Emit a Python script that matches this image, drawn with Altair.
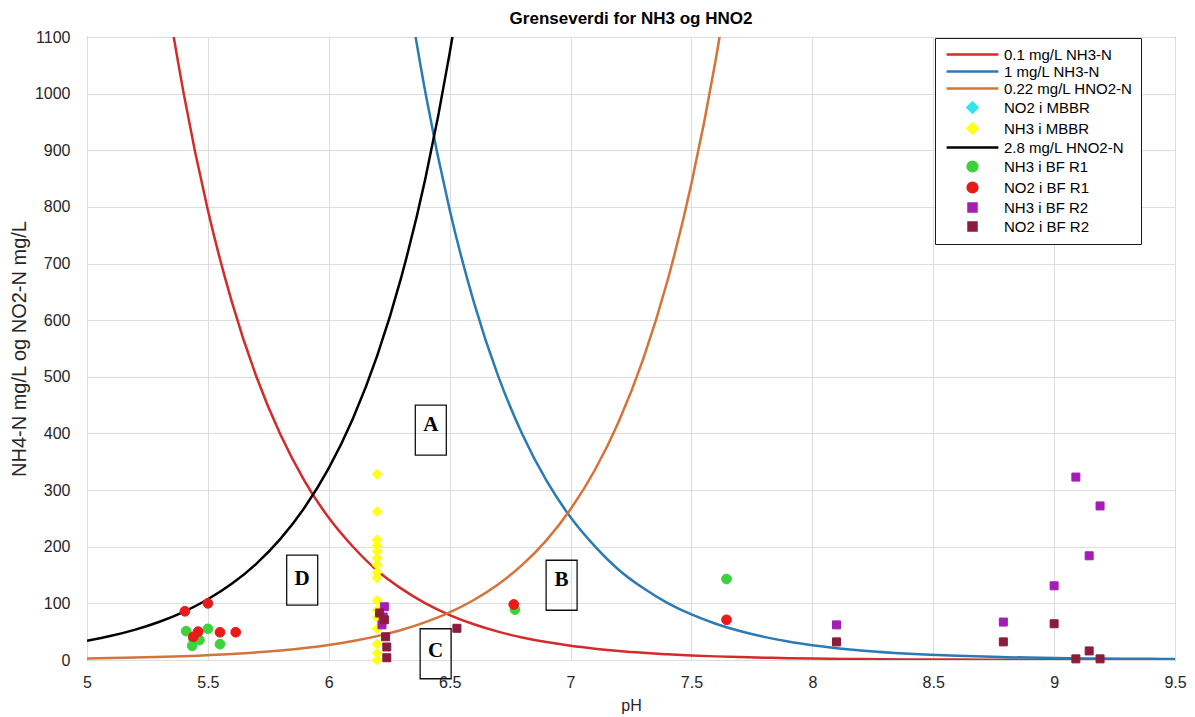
import altair as alt
import pandas as pd

FONT = "Liberation Sans"

# ---------------- series definitions ----------------
series = ["0.1 mg/L NH3-N", "1 mg/L NH3-N", "0.22 mg/L HNO2-N", "NO2 i MBBR", "NH3 i MBBR",
          "2.8 mg/L HNO2-N", "NH3 i BF R1", "NO2 i BF R1", "NH3 i BF R2", "NO2 i BF R2"]
colors = ["#d42a2a", "#2a7ab6", "#d4733a", "#33e6ee", "#ffff1a",
          "#000000", "#3cd23c", "#e81a1a", "#a51db5", "#8c1c3c"]
LINE = "M-3.7,0H3.7"
shapes = [LINE, LINE, LINE, "diamond", "diamond", LINE, "circle", "circle", "square", "square"]
sizes = [196, 196, 196, 100, 100, 196, 95, 95, 64, 64]

# ---------------- threshold curves ----------------
red_ph = [5.2, 5.3, 5.4, 5.5, 5.6, 5.7, 5.8, 5.9, 6.0, 6.1, 6.2, 6.3, 6.4, 6.5, 6.6, 6.7, 6.8, 6.9, 7.0, 7.1,
          7.2, 7.3, 7.4, 7.5, 7.6, 7.7, 7.8, 7.9, 8.0, 8.2, 8.4, 8.6, 8.8, 9.0, 9.25, 9.5]
red_val = [1585, 1259, 1000, 794, 631, 501, 398, 316, 251, 200, 158, 126, 100, 79.4, 63.1, 50.1, 39.8, 31.6, 25.1, 20.0,
           15.8, 12.6, 10.1, 8.0, 6.4, 5.1, 4.1, 3.3, 2.6, 1.7, 1.1, 0.7, 0.5, 0.3, 0.2, 0.1]

blue_ph = [6.2, 6.3, 6.4, 6.5, 6.6, 6.7, 6.8, 6.9, 7.0, 7.1, 7.2, 7.3, 7.4, 7.5, 7.6, 7.7, 7.8, 7.9, 8.0,
           8.2, 8.4, 8.6, 8.8, 9.0, 9.2, 9.4, 9.5]
blue_val = [1586, 1260, 1001, 795, 632, 502, 399, 317, 252, 201, 159, 127, 101, 80.4, 64.1, 51.1, 40.8, 32.6, 26.1,
            16.8, 11.0, 7.3, 5.0, 3.5, 2.6, 2.0, 1.8]

orange_ph = [5.0, 5.2, 5.4, 5.6, 5.8, 6.0, 6.1, 6.2, 6.3, 6.4, 6.5, 6.6, 6.7, 6.8, 6.9, 7.0, 7.1, 7.2, 7.3, 7.4,
             7.5, 7.6, 7.7, 7.8]
orange_val = [2.66, 4.22, 6.68, 10.6, 16.8, 26.6, 33.5, 42.2, 53.1, 66.8, 84.1, 105.9, 133.4, 167.9, 211.3, 266.1,
              335.0, 421.7, 530.9, 668.3, 841.4, 1059, 1334, 1679]

black_ph = [5.0, 5.1, 5.2, 5.3, 5.4, 5.5, 5.6, 5.7, 5.8, 5.9, 6.0, 6.1, 6.2, 6.3, 6.4, 6.5, 6.6, 6.7]
black_val = [33.9, 42.7, 53.7, 67.6, 85.1, 107.2, 134.9, 169.8, 213.8, 269.2, 338.8, 426.6, 537.0, 676.1,
             851.1, 1071.5, 1349, 1698]

# ---------------- measured points ----------------
mbbr_no2_ph = []
mbbr_no2_val = []
mbbr_nh3_ph = [6.2, 6.2, 6.2, 6.2, 6.2, 6.2, 6.2, 6.2, 6.2, 6.2, 6.2, 6.2, 6.2, 6.2, 6.2, 6.2]
mbbr_nh3_val = [328, 262, 212, 202, 192, 180, 168, 155, 145, 105, 88, 75, 55, 28, 12, 0]

r1_nh3_ph = [5.41, 5.435, 5.44, 5.465, 5.50, 5.55, 6.77, 7.645]
r1_nh3_val = [51, 25, 37, 35, 55, 28, 89, 143]
r1_no2_ph = [5.405, 5.44, 5.46, 5.50, 5.55, 5.615, 6.765, 7.645]
r1_no2_val = [86, 41, 50, 100, 49, 49, 98, 71]

r2_nh3_ph = [6.23, 6.225, 6.22, 8.10, 8.79, 9.0, 9.09, 9.145, 9.19]
r2_nh3_val = [94, 76, 62, 62, 67, 131, 323, 184, 272]
r2_no2_ph = [6.21, 6.23, 6.235, 6.24, 6.24, 6.53, 8.10, 8.79, 9.0, 9.09, 9.145, 9.19]
r2_no2_val = [83, 71, 41, 23, 4, 56, 32, 32, 64, 2, 16, 2]

# ---------------- annotations ----------------
ann_labels = ["A", "B", "C", "D"]
ann_ph = [6.422, 6.963, 6.442, 5.89]
ann_box_val = [406, 132, 11, 141]
ann_txt_val = [415, 141, 16, 143]

x_ticks = [5, 5.5, 6, 6.5, 7, 7.5, 8, 8.5, 9, 9.5]
y_ticks = [0, 100, 200, 300, 400, 500, 600, 700, 800, 900, 1000, 1100]

# ---------------- frames ----------------
def frame(ph, val, name):
    return pd.DataFrame({"ph": ph, "val": val, "series": [name] * len(ph)})

lines_df = pd.concat([
    frame(red_ph, red_val, series[0]),
    frame(blue_ph, blue_val, series[1]),
    frame(orange_ph, orange_val, series[2]),
    frame(black_ph, black_val, series[5]),
], ignore_index=True)

pts_df = pd.concat([
    frame(mbbr_no2_ph, mbbr_no2_val, series[3]),
    frame(mbbr_nh3_ph, mbbr_nh3_val, series[4]),
    frame(r1_nh3_ph, r1_nh3_val, series[6]),
    frame(r1_no2_ph, r1_no2_val, series[7]),
    frame(r2_nh3_ph, r2_nh3_val, series[8]),
    frame(r2_no2_ph, r2_no2_val, series[9]),
], ignore_index=True)

ann_df = pd.DataFrame({"label": ann_labels, "ph": ann_ph, "box": ann_box_val, "txt": ann_txt_val})

x_enc = alt.X("ph:Q", scale=alt.Scale(domain=[5, 9.5], nice=False, zero=False),
              axis=alt.Axis(values=x_ticks, format="~g", title="pH", labelFlush=False, labelOverlap=False))
y_enc = alt.Y("val:Q", scale=alt.Scale(domain=[0, 1100], nice=False, zero=False),
              axis=alt.Axis(values=y_ticks, format="d", title="NH4-N mg/L og NO2-N mg/L", labelFlush=False,
                            labelOverlap=False))

stroke_enc = alt.Stroke("series:N", scale=alt.Scale(domain=series, range=colors), legend=alt.Legend(title=None))

lines = alt.Chart(lines_df).mark_line(clip=True, strokeWidth=2.5, interpolate="monotone").encode(
    x=x_enc, y=y_enc, stroke=stroke_enc
)

points = alt.Chart(pts_df).mark_point(filled=True, opacity=1, strokeWidth=1).encode(
    x=alt.X("ph:Q"), y=alt.Y("val:Q"),
    fill=alt.Fill("series:N", scale=alt.Scale(domain=series, range=colors), legend=alt.Legend(title=None)),
    stroke=stroke_enc,
    shape=alt.Shape("series:N", scale=alt.Scale(domain=series, range=shapes), legend=alt.Legend(title=None)),
    size=alt.Size("series:N", scale=alt.Scale(type="ordinal", domain=series, range=sizes),
                  legend=alt.Legend(title=None)),
)

boxes = alt.Chart(ann_df).mark_point(shape="M-0.62,-1H0.62V1H-0.62Z", size=2500, filled=False,
                                     stroke="#111111", strokeWidth=1.3, opacity=1).encode(
    x=alt.X("ph:Q"), y=alt.Y("box:Q")
)
letters = alt.Chart(ann_df).mark_text(font="Liberation Serif", fontSize=21, fontWeight="bold", color="#000000",
                                      align="center", baseline="middle").encode(
    x=alt.X("ph:Q"), y=alt.Y("txt:Q"), text="label:N"
)

chart = alt.layer(lines, points, boxes, letters).properties(
    width=1088, height=623,
    title=alt.TitleParams("Grenseverdi for NH3 og HNO2", font=FONT, fontSize=17, fontWeight="bold",
                          color="#000000", anchor="middle", frame="group", offset=1),
    autosize=alt.AutoSizeParams(type="none"),
    padding={"left": 79, "top": 29, "right": 12, "bottom": 55},
).configure_view(
    stroke="#262626", strokeWidth=1
).configure_axis(
    grid=True, gridColor="#dddddd", gridWidth=1, domain=False, ticks=False,
    labelFont=FONT, labelFontSize=16, labelColor="#262626",
    titleFont=FONT, titleFontWeight="normal", titleColor="#262626",
).configure_axisX(
    labelPadding=14, titlePadding=7, titleFontSize=16
).configure_axisY(
    labelPadding=17, titlePadding=5, titleFontSize=20
).configure_legend(
    orient="none", legendX=848, legendY=1, direction="vertical",
    fillColor="white", strokeColor="#1a1a1a", padding=8,
    labelFont=FONT, labelFontSize=15, labelColor="#000000", labelLimit=400,
    symbolStrokeWidth=2.5, symbolOffset=21, labelOffset=23, rowPadding=0,
)

chart.save("out.html", embed_options={"renderer": "svg", "actions": False})
